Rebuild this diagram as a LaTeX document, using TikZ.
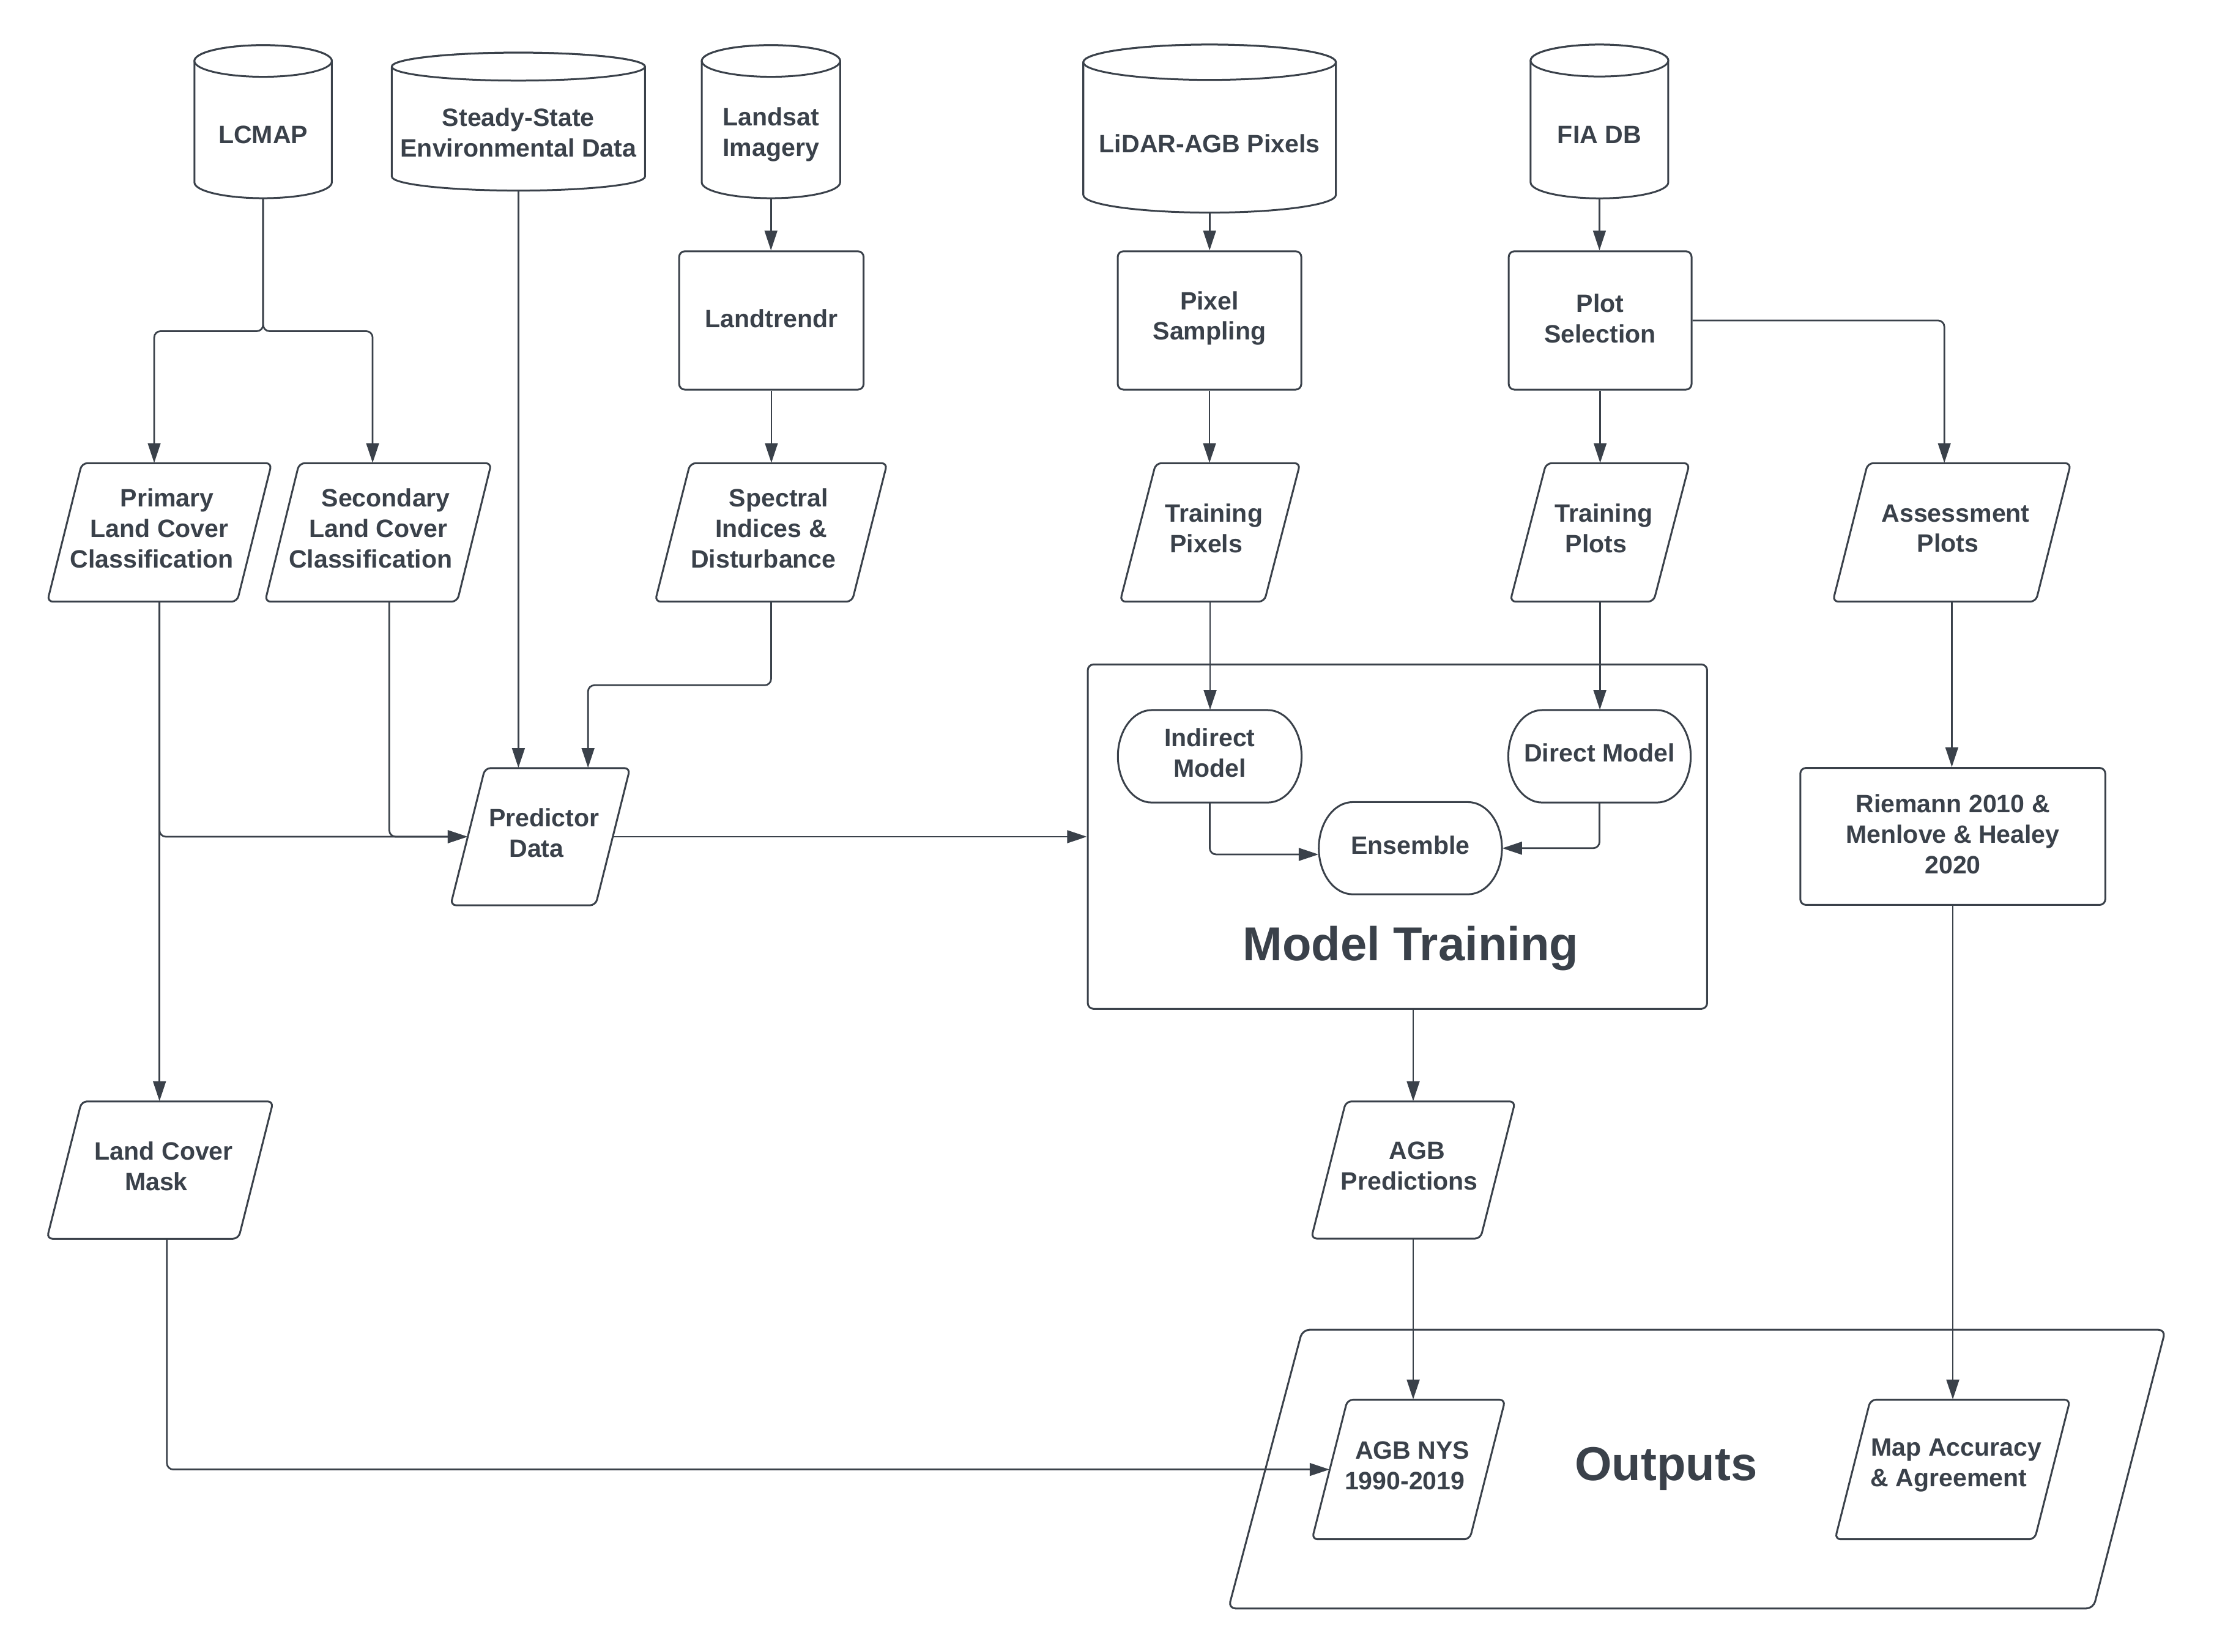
\documentclass[tikz,border=0pt]{standalone}
\usepackage{fontspec}
\setmainfont{Liberation Sans}
\usetikzlibrary{arrows.meta,calc}
\definecolor{ink}{HTML}{3A414A}
\tikzset{
  shp/.style={draw=ink, line width=1.3pt, fill=white, line join=round},
  txt/.style={inner sep=0pt, align=center, text=ink, font=\fontsize{17.8}{21.6}\selectfont\bfseries},
  box/.style={shp, inner sep=0pt, rounded corners=4pt},
  big/.style={inner sep=0pt, text=ink, font=\fontsize{33.7}{40}\selectfont\bfseries},
  arr/.style={draw=ink, line width=1.2pt, rounded corners=4.5pt, -{Triangle[length=14pt,width=9pt]}},
}
% parallelogram: name, xTL, xTR, ytop, ybot, slant, text
\newcommand{\para}[7]{%
  \draw[shp, rounded corners=4pt] (#2,#4) -- (#3,#4) -- ({#3-#6},#5) -- ({#2-#6},#5) -- cycle;
  \node[inner sep=0pt, minimum width={(#3-#2)*1pt}, minimum height={(#5-#4)*1pt}] (#1) at ({(#2+#3-#6)/2},{(#4+#5)/2}) {};
  \node[txt, yshift=2.8pt] (#1-t) at (#1.center) {#7};
}
% cylinder: name, x0, x1, top, bottom, ry, text
\newcommand{\cyl}[7]{%
  \draw[shp] (#2,{#4+#6}) -- (#2,{#5-#6}) arc[start angle=180,end angle=0,x radius={(#3-#2)/2},y radius=#6] -- (#3,{#4+#6}) arc[start angle=0,end angle=-180,x radius={(#3-#2)/2},y radius=#6] -- cycle;
  \draw[shp] ({(#2+#3)/2},{#4+#6}) ellipse[x radius={(#3-#2)/2}, y radius=#6];
  \node[inner sep=0pt, minimum width={(#3-#2)*1pt}, minimum height={(#5-#4-2*#6)*1pt}] (#1) at ({(#2+#3)/2},{(#4+2*#6+#5)/2}) {};
  \node[txt, yshift=2pt] (#1-t) at (#1.center) {#7};
}
% stadium: name, x0, x1, y0, y1, text
\newcommand{\stad}[6]{%
  \draw[shp] ({#2+24},#4) -- ({#3-24},#4) arc[start angle=-90,end angle=90,x radius=24,y radius={(#5-#4)/2}] -- ({#2+24},#5) arc[start angle=90,end angle=270,x radius=24,y radius={(#5-#4)/2}] -- cycle;
  \node[inner sep=0pt, minimum width={(#3-#2)*1pt}, minimum height={(#5-#4)*1pt}] (#1) at ({(#2+#3)/2},{(#4+#5)/2}) {};
  \node[txt, yshift=2.3pt] (#1-t) at (#1.center) {#6};
}
% rounded rectangle: name, cx, cy, w, h, text
\newcommand{\rbox}[6]{%
  \node[box, minimum width=#4pt, minimum height=#5pt] (#1) at (#2,#3) {};
  \node[txt, yshift=1.5pt] (#1-t) at (#1.center) {#6};
}
\begin{document}
\begin{tikzpicture}[x=1pt,y=-1pt]
\fill[white] (0,0) rectangle (1568,1170);
\useasboundingbox (0,0) rectangle (1568,1170);

% containers
\node[box, minimum width=438.6pt, minimum height=243.9pt] (mt) at (989.7,592.65) {};
\node[big] (mtt) at (999,672) {Model Training};
\draw[shp, rounded corners=5pt] (922.4,942) -- (1533.6,942) -- (1482.5,1139.4) -- (870,1139.4) -- cycle;
\node[big] (outt) at (1180,1040.5) {Outputs};

% data stores
\cyl{lcmap}{137.7}{235}{32}{140.4}{11.2}{LCMAP}
\cyl{ssed}{277.5}{456.8}{37.3}{135}{9.9}{Steady-State\\Environmental Data}
\cyl{lsat}{497}{595}{32}{140.4}{11.2}{Landsat\\Imagery}
\cyl{lidar}{767.2}{946.1}{31.6}{150.6}{12.5}{LiDAR-AGB Pixels}
\cyl{fia}{1084}{1181.5}{31.6}{140.5}{11.3}{FIA DB}

% processes
\rbox{ltr}{546.3}{227}{130.6}{98}{Landtrendr}
\rbox{psamp}{856.6}{227}{130}{98}{Pixel\\Sampling}
\rbox{psel}{1133.25}{227}{129.5}{98}{Plot\\Selection}
\rbox{riem}{1383}{592.5}{216}{97}{Riemann 2010 \&\\Menlove \& Healey\\2020}

% data
\para{prim}{58}{192.4}{328.1}{426.2}{24.5}{\hspace*{10.8pt}Primary\\Land Cover\\\hspace*{-10.8pt}Classification}
\para{sec}{211.9}{348}{328.1}{426.2}{24.2}{\hspace*{10.8pt}Secondary\\Land Cover\\\hspace*{-10.8pt}Classification}
\para{spec}{488.8}{628.3}{328.1}{426.2}{24.9}{\hspace*{10.8pt}Spectral\\Indices \&\\\hspace*{-10.8pt}Disturbance}
\para{tpix}{818.6}{920.8}{328.1}{426.2}{25.4}{\hspace*{5.4pt}Training\\\hspace*{-5.4pt}Pixels}
\para{tplot}{1095}{1196.6}{328.1}{426.2}{25.5}{\hspace*{5.4pt}Training\\\hspace*{-5.4pt}Plots}
\para{asm}{1322.8}{1466.6}{328.1}{426.2}{24.8}{\hspace*{5.4pt}Assessment\\\hspace*{-5.4pt}Plots}
\para{pd}{343.5}{446.2}{544.1}{641.3}{24.4}{\hspace*{5.4pt}Predictor\\\hspace*{-5.4pt}Data}
\para{lcm}{57.8}{193.5}{780.2}{877.5}{24.6}{\hspace*{5.4pt}Land Cover\\\hspace*{-5.4pt}Mask}
\para{agbp}{953.2}{1073.1}{780.2}{877.4}{24.6}{\hspace*{5.4pt}AGB\\\hspace*{-5.4pt}Predictions}
\para{nys}{954.3}{1066}{991.5}{1090.4}{25.1}{\hspace*{5.4pt}AGB NYS\\\hspace*{-5.4pt}1990-2019}
\para{mapa}{1324.7}{1466.1}{991.5}{1090.4}{25.1}{\hspace*{5.4pt}Map Accuracy\\\hspace*{-5.4pt}\& Agreement}

% models
\stad{ind}{791.7}{921.8}{503}{568.5}{Indirect\\Model}
\stad{dir}{1068.2}{1197.4}{503}{568.5}{Direct Model}
\stad{ens}{934}{1063.7}{568.2}{633.5}{Ensemble}

% connectors
\draw[arr] (lcmap.south) -- ($(lcmap.south)+(0,94)$) -| ($(prim.north)+(-3.75,0)$);
\draw[arr] (lcmap.south) -- ($(lcmap.south)+(0,94)$) -| ($(sec.north)+(-3.95,0)$);
\draw[arr] (ssed.south) -- (ssed.south |- pd.north);
\draw[arr] (lsat.south) -- (lsat.south |- ltr.north);
\draw[arr] (ltr.south) -- (ltr.south |- spec.north);
\draw[arr] (spec.south) -- ($(spec.south)+(0,59)$) -| ($(pd.north)+(33.8,0)$);
\draw[arr] (prim.south) -- (prim.south |- lcm.north);
\draw[arr] (prim.south) |- (pd.west);
\draw[arr] ($(sec.south)+(7.85,0)$) |- (pd.west);
\draw[arr] (pd.east) -- (pd.east -| mt.west);
\draw[arr] (lidar.south) -- (lidar.south |- psamp.north);
\draw[arr] (psamp.south) -- (psamp.south |- tpix.north);
\draw[arr] (tpix.south) -- (tpix.south |- ind.north);
\draw[arr] (fia.south) -- (fia.south |- psel.north);
\draw[arr] (psel.south) -- (psel.south |- tplot.north);
\draw[arr] (psel.east) -| ($(asm.north)+(-5.3,0)$);
\draw[arr] (tplot.south) -- (tplot.south |- dir.north);
\draw[arr] (ind.south) |- ($(ens.west)+(0,4.4)$);
\draw[arr] (dir.south) |- (ens.east);
\draw[arr] (mt.south -| agbp.north) -- (agbp.north);
\draw[arr] (agbp.south) -- (agbp.south |- nys.north);
\draw[arr] (asm.south) -- (asm.south |- riem.north);
\draw[arr] (riem.south) -- (riem.south |- mapa.north);
\draw[arr] ($(lcm.south)+(4.85,0)$) |- (nys.west);
\end{tikzpicture}
\end{document}
